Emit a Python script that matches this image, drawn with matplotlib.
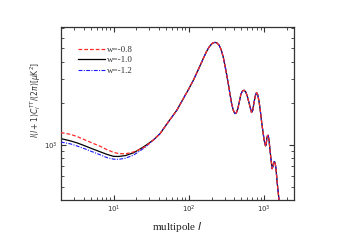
import numpy as np
import matplotlib
matplotlib.use("Agg")
import matplotlib.pyplot as plt
from matplotlib.ticker import LogLocator, NullFormatter, LogFormatterSciNotation

# ---- data ----
ell_low = [2.0, 2.67, 3.3, 4.0, 5.2, 6.66, 8.2, 10.0, 11.6, 14.3, 18.4, 22.0, 26.3]
cl_w08_low = [1230, 1196, 1150, 1100, 1035, 979, 925, 885, 868, 863, 890, 925, 972]
cl_w10_low = [1113, 1072, 1035, 995, 940, 893, 855, 828, 826, 838, 878, 928, 987]
cl_w12_low = [1051, 1020, 983, 946, 895, 849, 810, 790, 788, 801, 845, 900, 962]

ell_high = [34.0, 41.5, 52.0, 69.2, 85.0, 100, 114.8, 135, 155.6, 172, 185, 200, 212,
            222, 234, 251, 268, 286, 308, 334, 352, 370, 390, 410, 428,
            449, 470, 491, 515, 543, 570, 598, 640, 680, 705, 731, 762, 793, 825,
            859, 895, 927, 1000, 1043, 1065, 1086, 1108, 1130, 1160, 1190, 1235,
            1277, 1305, 1332, 1360, 1387, 1415, 1442, 1503, 1578, 1650]
cl_high = [1090, 1209, 1440, 1784, 2180, 2552, 2944, 3560, 4226, 4760, 5100, 5380, 5500,
           5530, 5500, 5300, 4920, 4346, 3550, 2786, 2330, 1996, 1780, 1689, 1710,
           1845, 2080, 2328, 2460, 2490, 2420, 2254, 1950, 1720, 1780, 2004, 2260, 2400, 2300,
           2037, 1720, 1460, 1081, 985, 1010, 1118, 1170, 1176, 1090, 946, 780,
           674, 695, 737, 758, 753, 715, 655, 510, 397, 330]

labels = ["w=-0.8", "w=-1.0", "w=-1.2"]

ell = ell_low + ell_high
series = [cl_w08_low + cl_high, cl_w10_low + cl_high, cl_w12_low + cl_high]
styles = [dict(color="#ff2a2a", ls=(0, (3.0, 1.6)), lw=0.9),
          dict(color="black", ls="-", lw=0.9),
          dict(color="#1a1aff", ls=(0, (3.5, 1.2, 1.0, 1.2)), lw=0.8)]

fig = plt.figure(figsize=(3.42, 2.40), dpi=100)
ax = fig.add_axes([0.178, 0.1667, 0.682, 0.7208])

order = [1, 2, 0]
lines = {}
for i in order:
    ln, = ax.plot(ell, series[i], label=labels[i], **styles[i], zorder=3 - (i == 1))
    lines[i] = ln

ax.set_xscale("log")
ax.set_yscale("log")
ax.set_xlim(2, 2500)
ax.set_ylim(400, 7150)

ax.xaxis.set_major_locator(LogLocator(base=10, numticks=10))
ax.xaxis.set_minor_locator(LogLocator(base=10, subs=np.arange(2, 10), numticks=10))
ax.yaxis.set_major_locator(LogLocator(base=10, numticks=10))
ax.yaxis.set_minor_locator(LogLocator(base=10, subs=np.arange(2, 10), numticks=10))
ax.xaxis.set_minor_formatter(NullFormatter())
ax.yaxis.set_minor_formatter(NullFormatter())
ax.xaxis.set_major_formatter(LogFormatterSciNotation())
ax.yaxis.set_major_formatter(LogFormatterSciNotation())

ax.tick_params(which="both", direction="in", top=True, right=True,
               labelsize=5, color="#333333", labelcolor="#333333")
ax.tick_params(which="major", length=3.5, width=0.8, pad=3)
ax.tick_params(axis="y", which="major", pad=2)
ax.tick_params(which="minor", length=2, width=0.6)
for s in ax.spines.values():
    s.set_color("#333333")
    s.set_linewidth(0.9)

ax.set_xlabel(r"multipole $l$", family="Liberation Serif", fontsize=8,
              color="#222222", labelpad=3)
ax.set_ylabel(r"$\mathit{l}(\mathit{l}+1)C_{\mathit{l}}^{TT}/(2\pi)[\mu \mathrm{K}^2]$",
              fontsize=5.5, color="#333333")
ax.yaxis.set_label_coords(-0.075, 0.58)

leg = ax.legend(handles=[lines[0], lines[1], lines[2]], loc="upper left",
                bbox_to_anchor=(0.04, 0.94), frameon=False,
                prop={"family": "Liberation Serif", "size": 6.5},
                handlelength=2.9, handletextpad=0.3, labelspacing=0.25)
for t in leg.get_texts():
    t.set_color("#333333")

fig.savefig("out.png", dpi=100)
